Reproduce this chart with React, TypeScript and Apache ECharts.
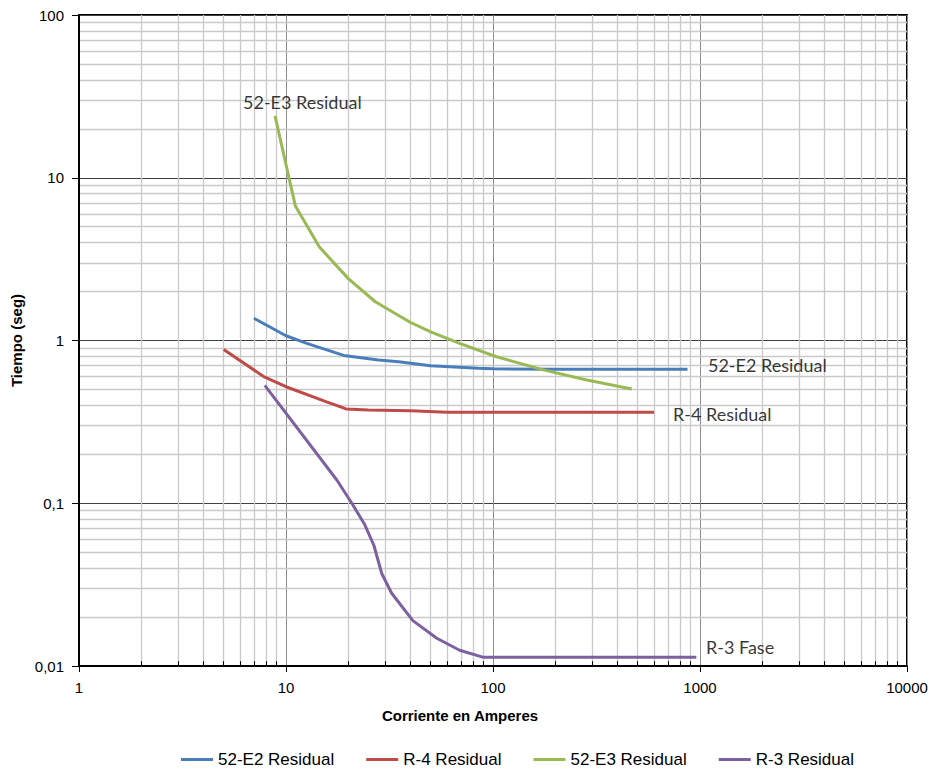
import React, { useEffect, useRef } from "react";
import * as echarts from "echarts";

// Series data: [current (A), time (s)]
const serie52E2: [number, number][] = [
  [7, 1.37], [10, 1.07], [12.6, 0.96], [19, 0.81], [28, 0.76], [35, 0.74],
  [50, 0.7], [85, 0.675], [100, 0.67], [200, 0.665], [870, 0.665],
];
const serieR4: [number, number][] = [
  [5, 0.88], [7.8, 0.6], [10, 0.52], [15.7, 0.42], [17, 0.405], [19.5, 0.38],
  [25, 0.374], [40, 0.37], [60, 0.362], [600, 0.362],
];
const serie52E3: [number, number][] = [
  [8.85, 24], [11.1, 6.7], [14.5, 3.75], [20, 2.4], [27, 1.73], [35.5, 1.41],
  [40, 1.29], [50, 1.13], [69, 0.96], [104, 0.795], [175, 0.66], [284, 0.572], [468, 0.503],
];
const serieR3: [number, number][] = [
  [7.9, 0.53], [17.6, 0.139], [20.8, 0.1], [24, 0.074], [26.6, 0.055], [29, 0.037],
  [32.4, 0.028], [41, 0.019], [53.5, 0.0148], [69, 0.0125], [90, 0.0113], [960, 0.0113],
];

const seriesNames = ["52-E2 Residual", "R-4 Residual", "52-E3 Residual", "R-3 Residual"];
const seriesColors = ["#4a7ebb", "#be4b48", "#98b954", "#7d60a0"];

// Annotations: [x, y, text]
const annotations: [number, number, string][] = [
  [6.2, 29.2, "52-E3 Residual"],
  [1093, 0.707, "52-E2 Residual"],
  [740, 0.3535, "R-4 Residual"],
  [1069, 0.01308, "R-3 Fase"],
];

const xDecades = [1, 10, 100, 1000];
const yDecades = [0.01, 0.1, 1, 10];
const minorSteps = [2, 3, 4, 5, 6, 7, 8, 9];

const fmtNum = (v: number) => String(parseFloat(v.toPrecision(4))).replace(".", ",");

export default function App() {
  const ref = useRef<HTMLDivElement>(null);
  useEffect(() => {
    if (!ref.current) return;
    const chart = echarts.init(ref.current, undefined, { renderer: "svg" });
    const xMinor: number[] = [];
    xDecades.forEach((d) => minorSteps.forEach((s) => xMinor.push(parseFloat((d * s).toPrecision(6)))));
    const yMinor: number[] = [];
    yDecades.forEach((d) => minorSteps.forEach((s) => yMinor.push(parseFloat((d * s).toPrecision(6)))));

    const dataSets = [serie52E2, serieR4, serie52E3, serieR3];
    const axisFont = "'Liberation Sans', Arial, sans-serif";

    chart.setOption({
      animation: false,
      backgroundColor: "#ffffff",
      grid: {
        left: 79,
        top: 15,
        right: 26,
        bottom: 103,
        show: true,
        borderColor: "#000",
        borderWidth: 2,
        backgroundColor: "transparent",
      },
      legend: {
        data: seriesNames,
        top: 746,
        left: 176,
        icon: "rect",
        itemWidth: 32,
        itemHeight: 3,
        itemGap: 32,
        textStyle: { fontFamily: axisFont, fontSize: 17, color: "#000" },
      },
      xAxis: {
        type: "log",
        logBase: 10,
        min: 1,
        max: 10000,
        name: "Corriente en Amperes",
        nameLocation: "middle",
        nameGap: 42,
        nameTextStyle: {
          fontFamily: axisFont,
          fontSize: 15,
          fontWeight: "bold",
          color: "#000",
          padding: [0, 66, 0, 0],
        },
        axisLine: { show: true, lineStyle: { color: "#000", width: 2 } },
        axisTick: { show: true, inside: false, length: 6, lineStyle: { color: "#000", width: 1 } },
        axisLabel: {
          margin: 14,
          fontFamily: axisFont,
          fontSize: 15,
          color: "#000",
          formatter: (v: number) => fmtNum(v),
        },
        splitLine: { show: true, lineStyle: { color: "#8c8c8c", width: 1 } },
      },
      yAxis: {
        type: "log",
        logBase: 10,
        min: 0.01,
        max: 100,
        name: "Tiempo (seg)",
        nameLocation: "middle",
        nameRotate: 90,
        nameGap: 51,
        nameTextStyle: { fontFamily: axisFont, fontSize: 15, fontWeight: "bold", color: "#000" },
        axisLine: { show: true, lineStyle: { color: "#000", width: 2 } },
        axisTick: { show: true, inside: false, length: 7, lineStyle: { color: "#000", width: 1 } },
        axisLabel: {
          margin: 15,
          fontFamily: axisFont,
          fontSize: 15,
          color: "#000",
          formatter: (v: number) => fmtNum(v),
        },
        splitLine: { show: true, lineStyle: { color: "#404040", width: 1 } },
      },
      series: [
        {
          name: "minorGrid",
          type: "line",
          data: [],
          z: 0,
          silent: true,
          markLine: {
            z: 0,
            silent: true,
            symbol: ["none", "none"],
            label: { show: false },
            emphasis: { disabled: true },
            lineStyle: { color: "#c9c9c9", width: 1.3, type: "solid" },
            data: [
              ...xMinor.map((v) => ({ xAxis: v })),
              ...yMinor.map((v) => ({ yAxis: v })),
              ...xMinor.map((v) => [
                { coord: [v, 0.01], lineStyle: { color: "#000", width: 1, type: "solid" } },
                { coord: [v, 0.0107] },
              ]),
            ],
          },
        },
        ...seriesNames.map((name, i) => ({
          name,
          type: "line",
          data: dataSets[i],
          showSymbol: false,
          symbol: "none",
          z: 3,
          lineStyle: { color: seriesColors[i], width: 3 },
          itemStyle: { color: seriesColors[i] },
        })),
        {
          name: "annotations",
          type: "scatter",
          symbolSize: 0,
          z: 4,
          silent: true,
          data: annotations.map(([x, y, t]) => ({ value: [x, y], name: t })),
          label: {
            show: true,
            position: "right",
            distance: 0,
            formatter: "{b}",
            fontFamily: "Lato, 'Open Sans', sans-serif",
            fontSize: 18,
            color: "#000",
          },
        },
      ],
    });
    return () => chart.dispose();
  }, []);
  return <div ref={ref} style={{ width: 933, height: 769, position: "absolute", left: 0, top: 0 }} />;
}
